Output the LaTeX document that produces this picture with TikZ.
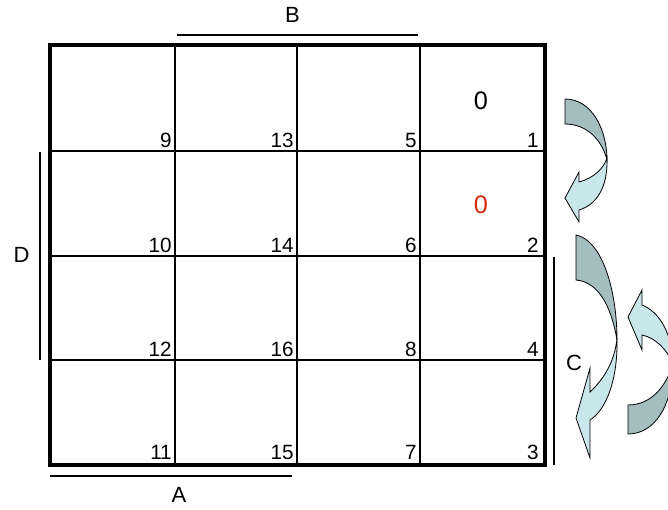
\documentclass[tikz,border=0pt]{standalone}
\usepackage{fontspec}
\setmainfont{Liberation Sans}
\definecolor{kmapdark}{HTML}{A4BEC0}
\definecolor{kmaplight}{HTML}{C9E6EA}
\definecolor{kmapred}{HTML}{D42A10}

\begin{document}
\begin{tikzpicture}[x=0.75pt,y=-0.75pt]
  \useasboundingbox (0,0) rectangle (668,510);
  % grid
  \foreach \x in {175,297,420} \draw[line width=1.1pt] (\x,45) -- (\x,465);
  \foreach \y in {151,256,360} \draw[line width=1.1pt] (50,\y) -- (545,\y);
  \draw[line width=2.3pt] (50,45) rectangle (545,465);
  % cell numbers
  \foreach \num/\x/\y in {9/172/147,13/294/147,5/417/147,1/539/147,
                          10/172/252,14/294/252,6/417/252,2/539/252,
                          12/172/356,16/294/356,8/417/356,4/539/356,
                          11/172/459,15/294/459,7/417/459,3/539/459}
    \node[anchor=base east,inner sep=0pt,font=\fontsize{15.5}{17}\selectfont] (c\num) at (\x,\y) {\num};
  \node[font=\fontsize{19}{21}\selectfont] (zero1) at (481,101) {0};
  \node[font=\fontsize{19}{21}\selectfont,text=kmapred] (zero2) at (481,205) {0};
  % variable bars
  \draw[line width=1.5pt] (177,35) -- (418,35);
  \draw[line width=1.5pt] (50,476) -- (292,476);
  \draw[line width=1.5pt] (40,152) -- (40,360);
  \draw[line width=1.5pt] (554,257) -- (554,465);
  \node[font=\fontsize{16.5}{18}\selectfont] (lblB) at (292.5,15) {B};
  \node[font=\fontsize{16.5}{18}\selectfont] (lblA) at (179,495) {A};
  \node[font=\fontsize{16.5}{18}\selectfont] (lblD) at (21.5,255) {D};
  \node[font=\fontsize{16.5}{18}\selectfont] (lblC) at (574,362.5) {C};
  % curved arrows
  \filldraw[fill=kmapdark,line width=0.6pt] (565,99) .. controls (592,99) and (607,130) .. (607,160)
    .. controls (602,140) and (587,124) .. (565,124) -- cycle;
  \filldraw[fill=kmaplight,line width=0.6pt] (607,158) .. controls (608,188) and (596,205) .. (579,210)
    -- (579,222) -- (565,198) -- (579,172) -- (579,182) .. controls (594,178) and (604,168) .. (607,158) -- cycle;
  \filldraw[fill=kmapdark,line width=0.6pt] (576,235) .. controls (602,240) and (617,290) .. (617,340)
    .. controls (611,305) and (598,282) .. (576,280) -- cycle;
  \filldraw[fill=kmaplight,line width=0.6pt] (617,338) .. controls (618,380) and (606,410) .. (590,420)
    -- (590,458) -- (576,418) -- (590,368) -- (590,392) .. controls (605,378) and (615,360) .. (617,338) -- cycle;
  \filldraw[fill=kmapdark,line width=0.6pt] (628,434) .. controls (655,434) and (673,405) .. (673,363)
    .. controls (667,385) and (652,405) .. (628,405) -- cycle;
  \filldraw[fill=kmaplight,line width=0.6pt] (673,366) .. controls (673,335) and (660,312) .. (642,305)
    -- (642,290) -- (628,317) -- (642,350) -- (642,335) .. controls (656,338) and (667,350) .. (672,362) -- cycle;
\end{tikzpicture}
\end{document}
